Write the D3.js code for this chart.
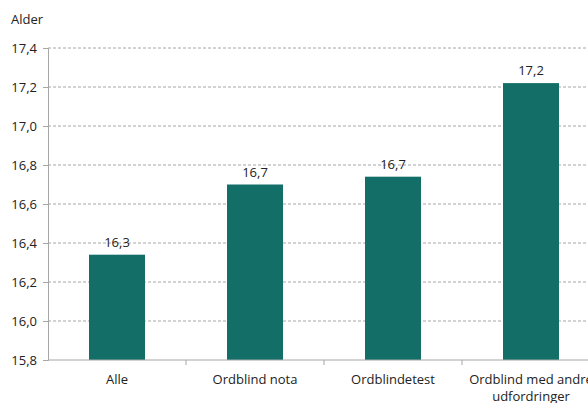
<!DOCTYPE html>
<html><head><meta charset="utf-8">
<script src="https://cdn.jsdelivr.net/npm/d3@7"></script>
<style>body{margin:0;background:#fff;} svg{display:block;} text{font-family:"Open Sans","Noto Sans",sans-serif;fill:#222;}</style>
</head><body>
<svg id="c" width="588" height="403"></svg>
<script>
const categories = ["Alle", "Ordblind nota", "Ordblindetest", "Ordblind med andre udfordringer"];
const values = [16.34, 16.70, 16.74, 17.22];
const valueLabels = ["16,3", "16,7", "16,7", "17,2"];
const yTicks = [15.8, 16.0, 16.2, 16.4, 16.6, 16.8, 17.0, 17.2, 17.4];
const yTitle = "Alder";

const svg = d3.select("#c");
const x0 = 48, yTop = 48, yBot = 360, step = 138;
const x = d3.scaleBand().domain(categories).range([x0, x0 + step * categories.length]).paddingInner(82/138).paddingOuter(41/138);
const y = d3.scaleLinear().domain([15.8, 17.4]).range([yBot, yTop]);
const fmt = d => d.toFixed(1).replace(".", ",");

// gridlines
svg.append("g").selectAll("line").data(yTicks.slice(1)).join("line")
  .attr("x1", x0).attr("x2", 588).attr("y1", d => y(d)).attr("y2", d => y(d))
  .attr("stroke", "#a6a6a6").attr("stroke-dasharray", "3,2").attr("stroke-width", 1);

// y axis
const ya = svg.append("g").attr("transform", `translate(${x0},0)`)
  .call(d3.axisLeft(y).tickValues(yTicks).tickFormat(fmt).tickSize(5).tickPadding(6));
ya.select(".domain").attr("stroke", "#a6a6a6");
ya.selectAll(".tick line").attr("stroke", "#a6a6a6");
ya.selectAll("text").style("font-size", "13px").attr("fill", "#222");

// bars
svg.append("g").selectAll("rect").data(categories).join("rect")
  .attr("x", d => x(d)).attr("width", x.bandwidth())
  .attr("y", (d, i) => y(values[i])).attr("height", (d, i) => yBot - y(values[i]))
  .attr("fill", "#126e66");

// value labels
svg.append("g").selectAll("text").data(categories).join("text")
  .attr("x", d => x(d) + x.bandwidth() / 2).attr("y", (d, i) => y(values[i]) - 8)
  .attr("text-anchor", "middle").style("font-size", "13px").text((d, i) => valueLabels[i]);

// x axis
svg.append("line").attr("x1", x0).attr("x2", 588).attr("y1", yBot).attr("y2", yBot).attr("stroke", "#a6a6a6");
svg.append("g").selectAll("line").data(categories.slice(1)).join("line")
  .attr("x1", d => x(d) - x.step() * x.paddingInner() / 2).attr("x2", d => x(d) - x.step() * x.paddingInner() / 2)
  .attr("y1", yBot).attr("y2", yBot + 5).attr("stroke", "#a6a6a6");

// category labels (wrapped)
const wraps = {"Ordblind med andre udfordringer": ["Ordblind med andre", "udfordringer"]};
categories.forEach(c => {
  const lines = wraps[c] || [c];
  const t = svg.append("text").attr("x", x(c) + x.bandwidth() / 2).attr("y", 384)
    .attr("text-anchor", "middle").style("font-size", "13px");
  lines.forEach((l, i) => t.append("tspan").attr("x", x(c) + x.bandwidth() / 2).attr("dy", i ? 17 : 0).text(l));
});

// y title
svg.append("text").attr("x", 11).attr("y", 24).style("font-size", "13px").text(yTitle);
</script>
</body></html>
